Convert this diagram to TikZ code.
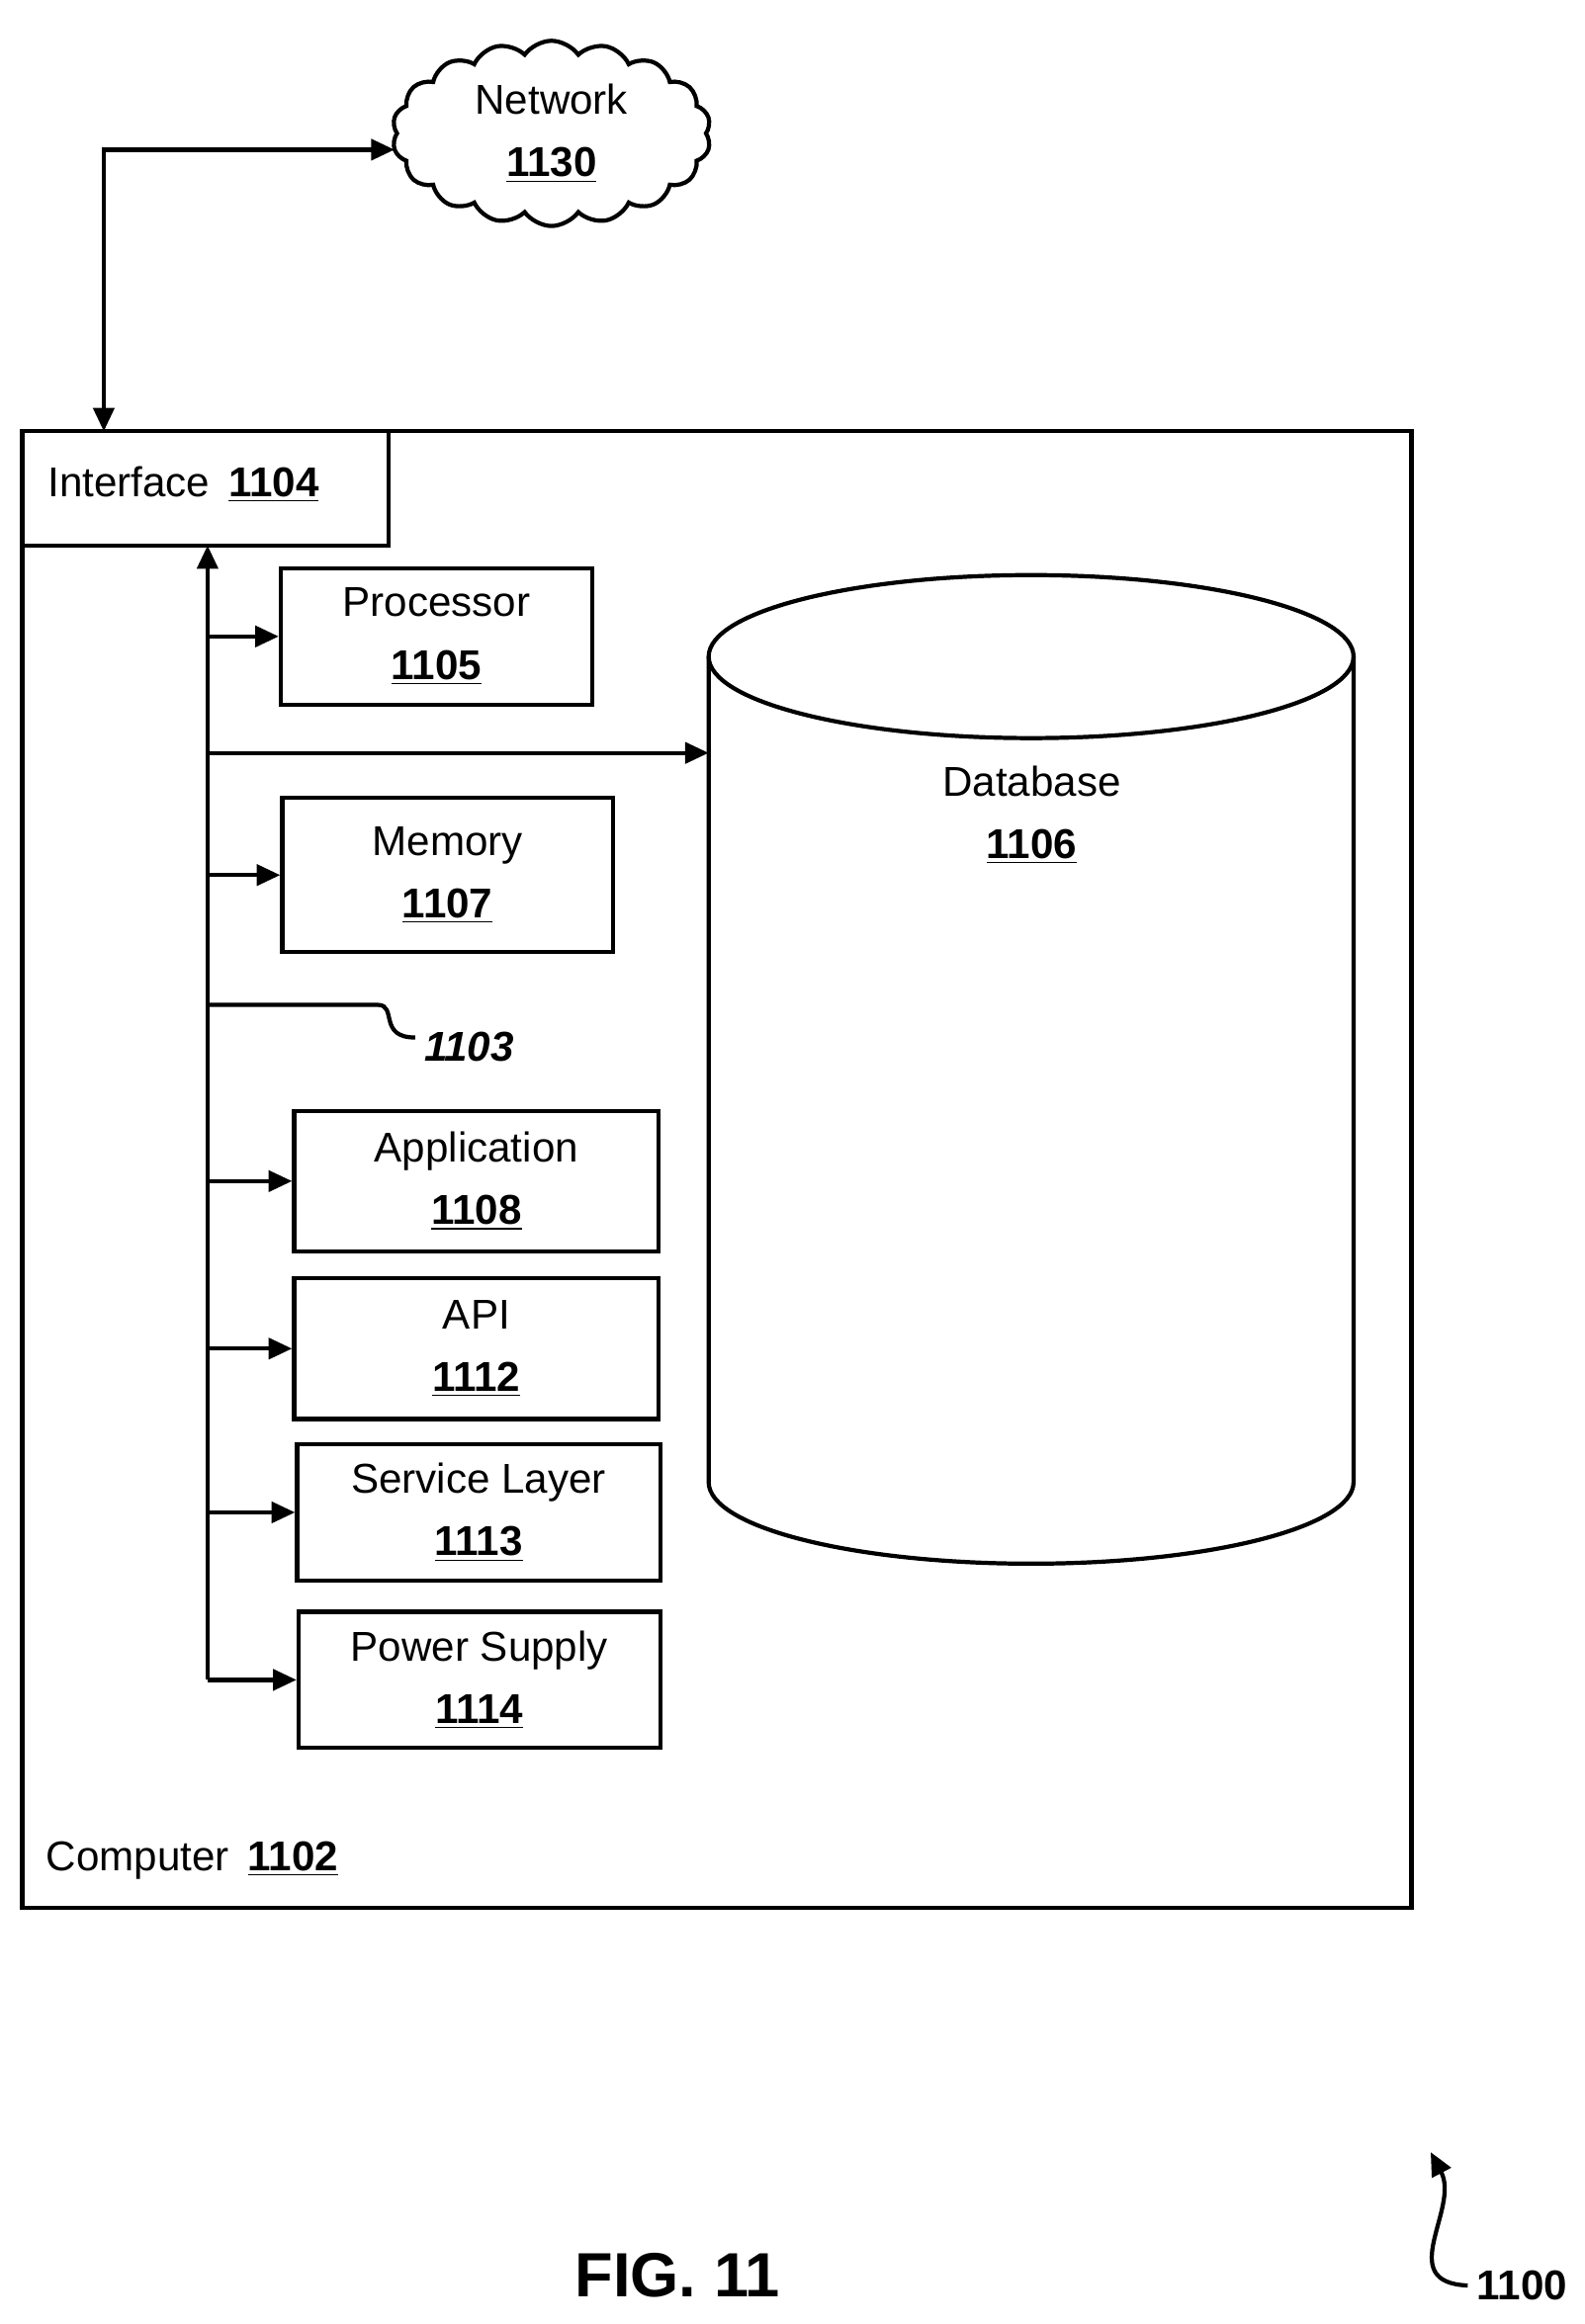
\documentclass[tikz,border=0pt]{standalone}
\usepackage{fontspec}
\setmainfont{Liberation Sans}
\usetikzlibrary{shapes.symbols,arrows.meta}
\tikzset{
  blk/.style={draw,line width=1.6pt,inner sep=0pt,align=center,font=\fontsize{16}{24}\selectfont},
  bus/.style={line width=1.6pt,-{Triangle[length=9pt,width=8pt]}},
}
\newcommand{\num}[1]{\underline{\textbf{#1}}}
\begin{document}
\begin{tikzpicture}[x=0.02cm,y=-0.02cm]
\useasboundingbox (0,0) rectangle (1069,1568);

\draw[line width=1.6pt] (15,291) rectangle (952,1287);
\node[font=\fontsize{16}{20}\selectfont,anchor=west] (comp) at (25,1255) {Computer\, \num{1102}};

\draw[line width=1.6pt] (15,291) rectangle (262,368);
\node[font=\fontsize{16}{20}\selectfont,anchor=west] (intf) at (26,327) {Interface\, \num{1104}};

\node[cloud,cloud puffs=18,cloud puff arc=110,aspect=1.9,draw,line width=1.6pt,minimum width=4.3cm,minimum height=2.5cm,align=center,inner sep=0pt,
  font=\fontsize{16}{24}\selectfont] (net) at (372,90) {Network\\\num{1130}};

\draw[line width=1.6pt,{Triangle[length=9pt,width=8pt]}-{Triangle[length=9pt,width=8pt]}] (70,291) -- (70,101) -- (net.west |- 70,101);

% database
\draw[line width=1.6pt] (478,443) -- (478,1000) arc[start angle=180,end angle=360,x radius=217.5,y radius=-55] -- (913,443);
\draw[line width=1.6pt] (695.5,443) ellipse[x radius=217.5,y radius=55];
\node[align=center,font=\fontsize{16}{24}\selectfont] (db) at (696,550) {Database\\\num{1106}};
\coordinate (dbin) at (478,508);

% blocks
\node[blk,minimum width=4.2cm,minimum height=1.84cm,anchor=north west] (proc) at (188,382) {Processor\\\num{1105}};
\node[blk,minimum width=4.46cm,minimum height=2.08cm,anchor=north west] (mem) at (189,537) {Memory\\\num{1107}};
\node[blk,minimum width=4.92cm,minimum height=1.9cm,anchor=north west] (app) at (197,748) {Application\\\num{1108}};
\node[blk,minimum width=4.92cm,minimum height=1.9cm,anchor=north west] (api) at (197,861) {API\\\num{1112}};
\node[blk,minimum width=4.9cm,minimum height=1.84cm,anchor=north west] (svc) at (199,973) {Service Layer\\\num{1113}};
\node[blk,minimum width=4.88cm,minimum height=1.84cm,anchor=north west] (pwr) at (200,1086) {Power Supply\\\num{1114}};

% bus
\draw[bus] (140,1133) -- (140,368);
\foreach \n in {proc,mem,app,api,svc,pwr}
  \draw[bus] (140,0 |- \n.west) -- (\n.west);
\draw[bus] (140,508) -- (dbin);
\draw[line width=1.6pt] (140,678) -- (255,678) .. controls (268,678) and (255,700) .. (280,700);
\node[font=\bfseries\itshape\fontsize{16}{20}\selectfont,anchor=west] (lbus) at (280,706) {1103};

\node[font=\bfseries\fontsize{24}{28}\selectfont] (fig) at (457,1535) {FIG. 11};
\node[font=\bfseries\fontsize{16}{20}\selectfont,anchor=west] (ref) at (990,1542) {1100};
\draw[line width=1.6pt,-{Triangle[length=9pt,width=8pt]}] (ref.west) .. controls (940,1540) and (985,1490) .. (965,1452);
\end{tikzpicture}
\end{document}
